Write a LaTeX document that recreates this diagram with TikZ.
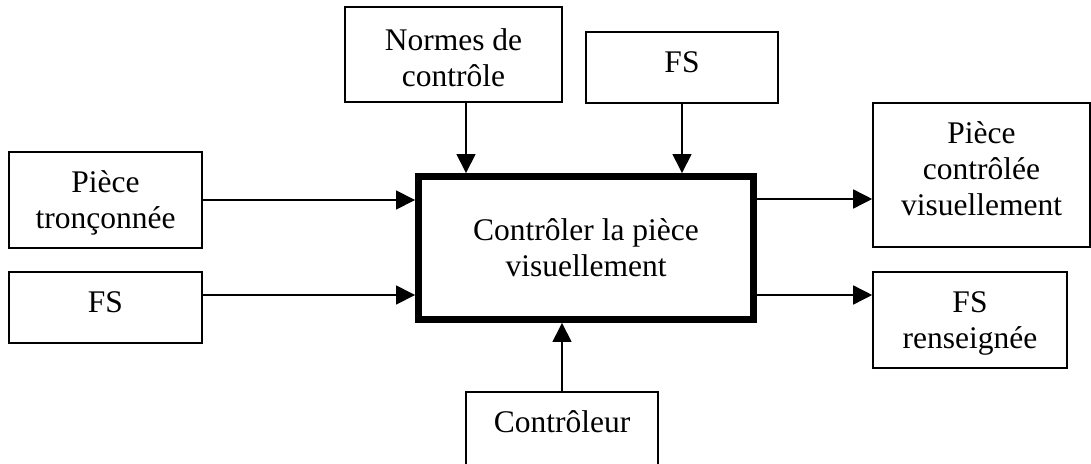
\documentclass[tikz,border=0pt]{standalone}
\usepackage{fontspec}
\setmainfont{Liberation Serif}
\usetikzlibrary{arrows.meta}
\begin{document}
\begin{tikzpicture}[x=1pt,y=-1pt,
  box/.style={draw, line width=1.6pt, inner sep=0pt},
  mainbox/.style={draw, line width=6.5pt, inner sep=0pt, align=center,
    font=\fontsize{31.5}{36}\selectfont},
  lbl/.style={inner sep=0pt, align=center, anchor=north,
    font=\fontsize{31.5}{36}\selectfont},
  arr/.style={line width=1.5pt, -{Triangle[length=19pt,width=19pt]}}]
\useasboundingbox (0,0) rectangle (1091,463);

% central activity box
\node[mainbox, minimum width=335.4pt, minimum height=143.4pt] (c) at (586,248)
  {Contrôler la pièce\\visuellement};

% surrounding boxes
\node[box, minimum width=217pt, minimum height=95pt] (normes) at (453.5,54.5) {};
\node[box, minimum width=192pt, minimum height=71pt] (fst) at (682,67.5) {};
\node[box, minimum width=193pt, minimum height=96pt] (pt) at (105.5,200) {};
\node[box, minimum width=193pt, minimum height=71pt] (fsl) at (105.5,307.5) {};
\node[box, minimum width=217pt, minimum height=144pt] (pcv) at (981.5,175) {};
\node[box, minimum width=194pt, minimum height=96pt] (fsr) at (970,320) {};
\node[box, minimum width=192pt, minimum height=78pt] (ctrl) at (562,431) {};

% texts
\node[lbl] (normesT) at (453.5,28.5) {Normes de\\contrôle};
\node[lbl] (fstT) at (682,51.5) {FS};
\node[lbl] (ptT) at (105.5,170.5) {Pièce\\tronçonnée};
\node[lbl] (fslT) at (105.5,291.5) {FS};
\node[lbl] (pcvT) at (981.5,121.5) {Pièce\\contrôlée\\visuellement};
\node[lbl] (fsrT) at (970,291.5) {FS\\renseignée};
\node[lbl] (ctrlT) at (562,410.5) {Contrôleur};

% connectors
\draw[arr] ([xshift=12.5pt]normes.south) -- ([xshift=12.5pt]normes.south |- c.north);
\draw[arr] (fst.south) -- (fst.south |- c.north);
\draw[arr] (pt.east) -- (pt.east -| c.west);
\draw[arr] ([yshift=12.5pt]fsl.east) -- ([yshift=12.5pt]fsl.east -| c.west);
\draw[arr] ([yshift=-24pt]pcv.west -| c.east) -- ([yshift=-24pt]pcv.west);
\draw[arr] ([yshift=25pt]fsr.west -| c.east) -- ([yshift=25pt]fsr.west);
\draw[arr] (ctrl.north) -- (ctrl.north |- c.south);
\end{tikzpicture}
\end{document}
